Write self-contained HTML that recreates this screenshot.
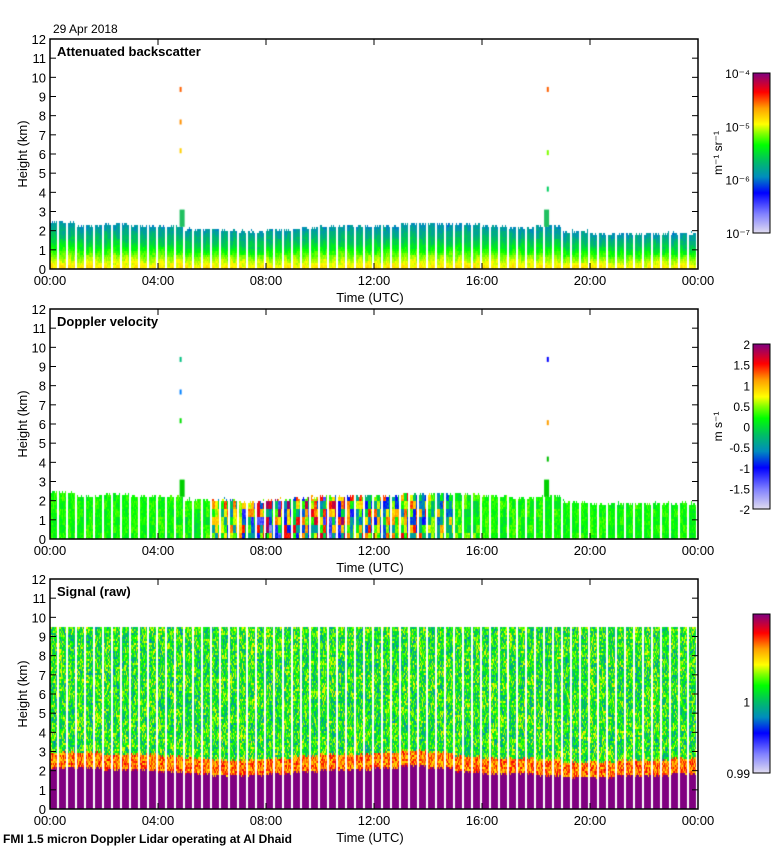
<!DOCTYPE html>
<html><head><meta charset="utf-8"><style>
body{margin:0;background:#fff;width:780px;height:850px;position:relative;overflow:hidden;font-family:"Liberation Sans",sans-serif}
canvas{position:absolute}
svg{position:absolute;left:0;top:0}
</style></head><body>
<canvas id="c1" width="648" height="230" style="left:50px;top:39px"></canvas>
<canvas id="c2" width="648" height="230" style="left:50px;top:309px"></canvas>
<canvas id="c3" width="648" height="230" style="left:50px;top:579px"></canvas>
<svg id="ov" width="780" height="850"></svg>
<script>
// hourly data (hour 0..23)
const hours=[0,1,2,3,4,5,6,7,8,9,10,11,12,13,14,15,16,17,18,19,20,21,22,23];
const aerosolTop=[2.5,2.3,2.4,2.3,2.3,2.1,2.1,2.0,2.1,2.2,2.3,2.3,2.3,2.4,2.4,2.4,2.3,2.2,2.3,2.0,1.9,1.9,1.9,1.9];
const turbulence=[0.03,0.03,0.03,0.03,0.04,0.06,0.3,0.4,0.45,0.45,0.45,0.35,0.3,0.35,0.25,0.08,0.05,0.04,0.04,0.03,0.03,0.03,0.03,0.03];
const signalBL=[2.2,2.2,2.1,2.1,2.0,1.9,1.8,1.8,1.9,2.0,2.1,2.1,2.2,2.3,2.2,2.0,1.9,1.9,1.8,1.7,1.7,1.8,1.8,1.9];
const spikeTimes=[4.8,4.8,4.8,18.4,18.4,18.4];
const spikeHeights=[9.5,7.8,6.3,9.5,6.2,4.3];
const xTicks=["00:00","04:00","08:00","12:00","16:00","20:00","00:00"];
const yTicks=[0,1,2,3,4,5,6,7,8,9,10,11,12];

const W=648,H=230,KM=H/12;
const xS=h=>h*W/24, yS=k=>H-k*KM;
const stops=[[0,[224,220,240]],[0.12,[128,128,255]],[0.25,[0,0,255]],[0.35,[0,140,190]],[0.45,[0,190,100]],[0.55,[0,255,0]],[0.62,[128,255,0]],[0.68,[255,255,0]],[0.78,[255,160,0]],[0.88,[255,0,0]],[1,[128,0,128]]];
function cmap(t){t=Math.max(0,Math.min(1,t));for(let i=1;i<stops.length;i++){if(t<=stops[i][0]){const a=stops[i-1],b=stops[i],f=(t-a[0])/(b[0]-a[0]);return a[1].map((v,j)=>Math.round(v+(b[1][j]-v)*f));}}return stops[stops.length-1][1];}
let seed=7;function rnd(){seed=(seed*16807)%2147483647;return seed/2147483647;}
// coherent texture grid (3px wide, 8px tall blocks)
const NX=Math.ceil(W/3),NY=Math.ceil(H/8);const grid=[];for(let i=0;i<NX*NY;i++)grid.push(rnd()-0.5);
const blk=(x,y)=>grid[Math.floor(x/3)*NY+Math.floor(y/8)];
function draw(id,fn){const c=document.getElementById(id),ctx=c.getContext('2d'),img=ctx.createImageData(W,H),d=img.data;
 for(let x=0;x<W;x++){const gap=(x%9)>=7;const hr=Math.min(23,Math.floor(x/W*24));
  for(let y=0;y<H;y+=2){const k=(H-y)/KM;const col=gap?null:fn(hr,k,x,y);
   for(let dy=0;dy<2;dy++){const i=((y+dy)*W+x)*4;if(col){d[i]=col[0];d[i+1]=col[1];d[i+2]=col[2];d[i+3]=255;}else{d[i]=d[i+1]=d[i+2]=d[i+3]=255;}}}}
 ctx.putImageData(img,0,0);return ctx;}
const ctx1=draw('c1',(hr,k,x,y)=>{const top=aerosolTop[hr]+(rnd()-0.5)*0.2;if(k>top)return null;const f=k/top;
 const t=f<0.3?0.72-0.1*f/0.3:(f<0.6?0.62-0.14*(f-0.3)/0.3:0.48-0.12*(f-0.6)/0.4);return cmap(t+blk(x,y)*0.05+(rnd()-0.5)*0.04);});
const ctx2=draw('c2',(hr,k,x,y)=>{const top=aerosolTop[hr]+(rnd()-0.5)*0.2;if(k>top)return null;return cmap(0.55+blk(x,y)*2*turbulence[hr]*(k<2.6?1:0.3)+(rnd()-0.5)*0.06);});
draw('c3',(hr,k,x,y)=>{if(k>9.5)return null;const bl=signalBL[hr]+(rnd()-0.5)*0.15;if(k<bl)return cmap(1);if(k<bl+0.8)return cmap(0.8+(rnd()-0.5)*0.2);return cmap(0.53+(rnd()-0.5)*0.3+blk(x,y)*0.1);});
[[ctx1,['#ff6000','#ff9000','#ffd000','#ff6000','#80ff00','#00d060']],[ctx2,['#00c080','#0080ff','#00e000','#0000ff','#ffa000','#00c000']]].forEach(([ctx,cols])=>{
 spikeTimes.forEach((t,i)=>{ctx.fillStyle=cols[i];ctx.fillRect(xS(t),yS(spikeHeights[i]),2,5);});
 [4.8,18.3].forEach(t=>{ctx.fillStyle=ctx===ctx1?'#20c060':'#00d000';ctx.fillRect(xS(t),yS(3.1),5,yS(2.2)-yS(3.1));});});

const NS='http://www.w3.org/2000/svg',ov=document.getElementById('ov');
function el(tag,a,txt){const e=document.createElementNS(NS,tag);for(const k in a)e.setAttribute(k,a[k]);if(txt!==undefined)e.textContent=txt;ov.appendChild(e);return e;}
const panels=[[39,'Attenuated backscatter','backscatter'],[309,'Doppler velocity','velocity'],[579,'Signal (raw)','signal']];
panels.forEach(([top,title,nm])=>{
 const f=el('rect',{x:50,y:top,width:648,height:230,fill:'none',stroke:'#000','stroke-width':1.5});
 
 yTicks.forEach(v=>{const y=top+yS(v);el('line',{x1:50,x2:56,y1:y,y2:y,stroke:'#000'});el('line',{x1:692,x2:698,y1:y,y2:y,stroke:'#000'});
  const t=el('text',{x:46,y:y+5,'text-anchor':'end','font-size':13},v);});
 xTicks.forEach((s,i)=>{const x=50+xS(i*4);el('line',{x1:x,x2:x,y1:top+224,y2:top+230,stroke:'#000'});el('line',{x1:x,x2:x,y1:top,y2:top+6,stroke:'#000'});
  const t=el('text',{x:x,y:top+246,'text-anchor':'middle','font-size':13},s);});
 const xt=el('text',{x:370,y:top+263,'text-anchor':'middle','font-size':13},'Time (UTC)');
 const yt=el('text',{x:0,y:0,transform:`translate(27,${top+115}) rotate(-90)`,'text-anchor':'middle','font-size':13},'Height (km)');
 const tt=el('text',{x:57,y:top+17,'font-size':13,'font-weight':'bold'},title);
});
// colorbars
const defs=el('defs',{});const g=document.createElementNS(NS,'linearGradient');g.setAttribute('id','cg');g.setAttribute('x1',0);g.setAttribute('y1',1);g.setAttribute('x2',0);g.setAttribute('y2',0);defs.appendChild(g);
stops.forEach(s=>{const st=document.createElementNS(NS,'stop');st.setAttribute('offset',s[0]);st.setAttribute('stop-color',`rgb(${s[1]})`);g.appendChild(st);});
const cbs=[[73,160,['10⁻⁷','10⁻⁶','10⁻⁵','10⁻⁴'],'m⁻¹ sr⁻¹'],[344,165,['-2','-1.5','-1','-0.5','0','0.5','1','1.5','2'],'m s⁻¹'],[614,159,['0.99','1'],'']];
cbs.forEach(([y,h,labels,unit],ci)=>{
 const r=el('rect',{x:753,y:y,width:17,height:h,fill:'url(#cg)',stroke:'#000'});
 labels.forEach((l,i)=>{let ly=ci==2?(i==0?y+h:y+h*0.55):y+h-i*h/(labels.length-1);
  const t=el('text',{x:750,y:ly+5,'text-anchor':'end','font-size':12},l);});
 if(unit){const u=el('text',{x:0,y:0,transform:`translate(722,${y+h/2}) rotate(-90)`,'text-anchor':'middle','font-size':12},unit);}
});
const dt=el('text',{x:53,y:33,'font-size':12},'29 Apr 2018');
const ft=el('text',{x:3,y:843,'font-size':12,'font-weight':'bold'},'FMI 1.5 micron Doppler Lidar operating at Al Dhaid');
</script>
</body></html>
